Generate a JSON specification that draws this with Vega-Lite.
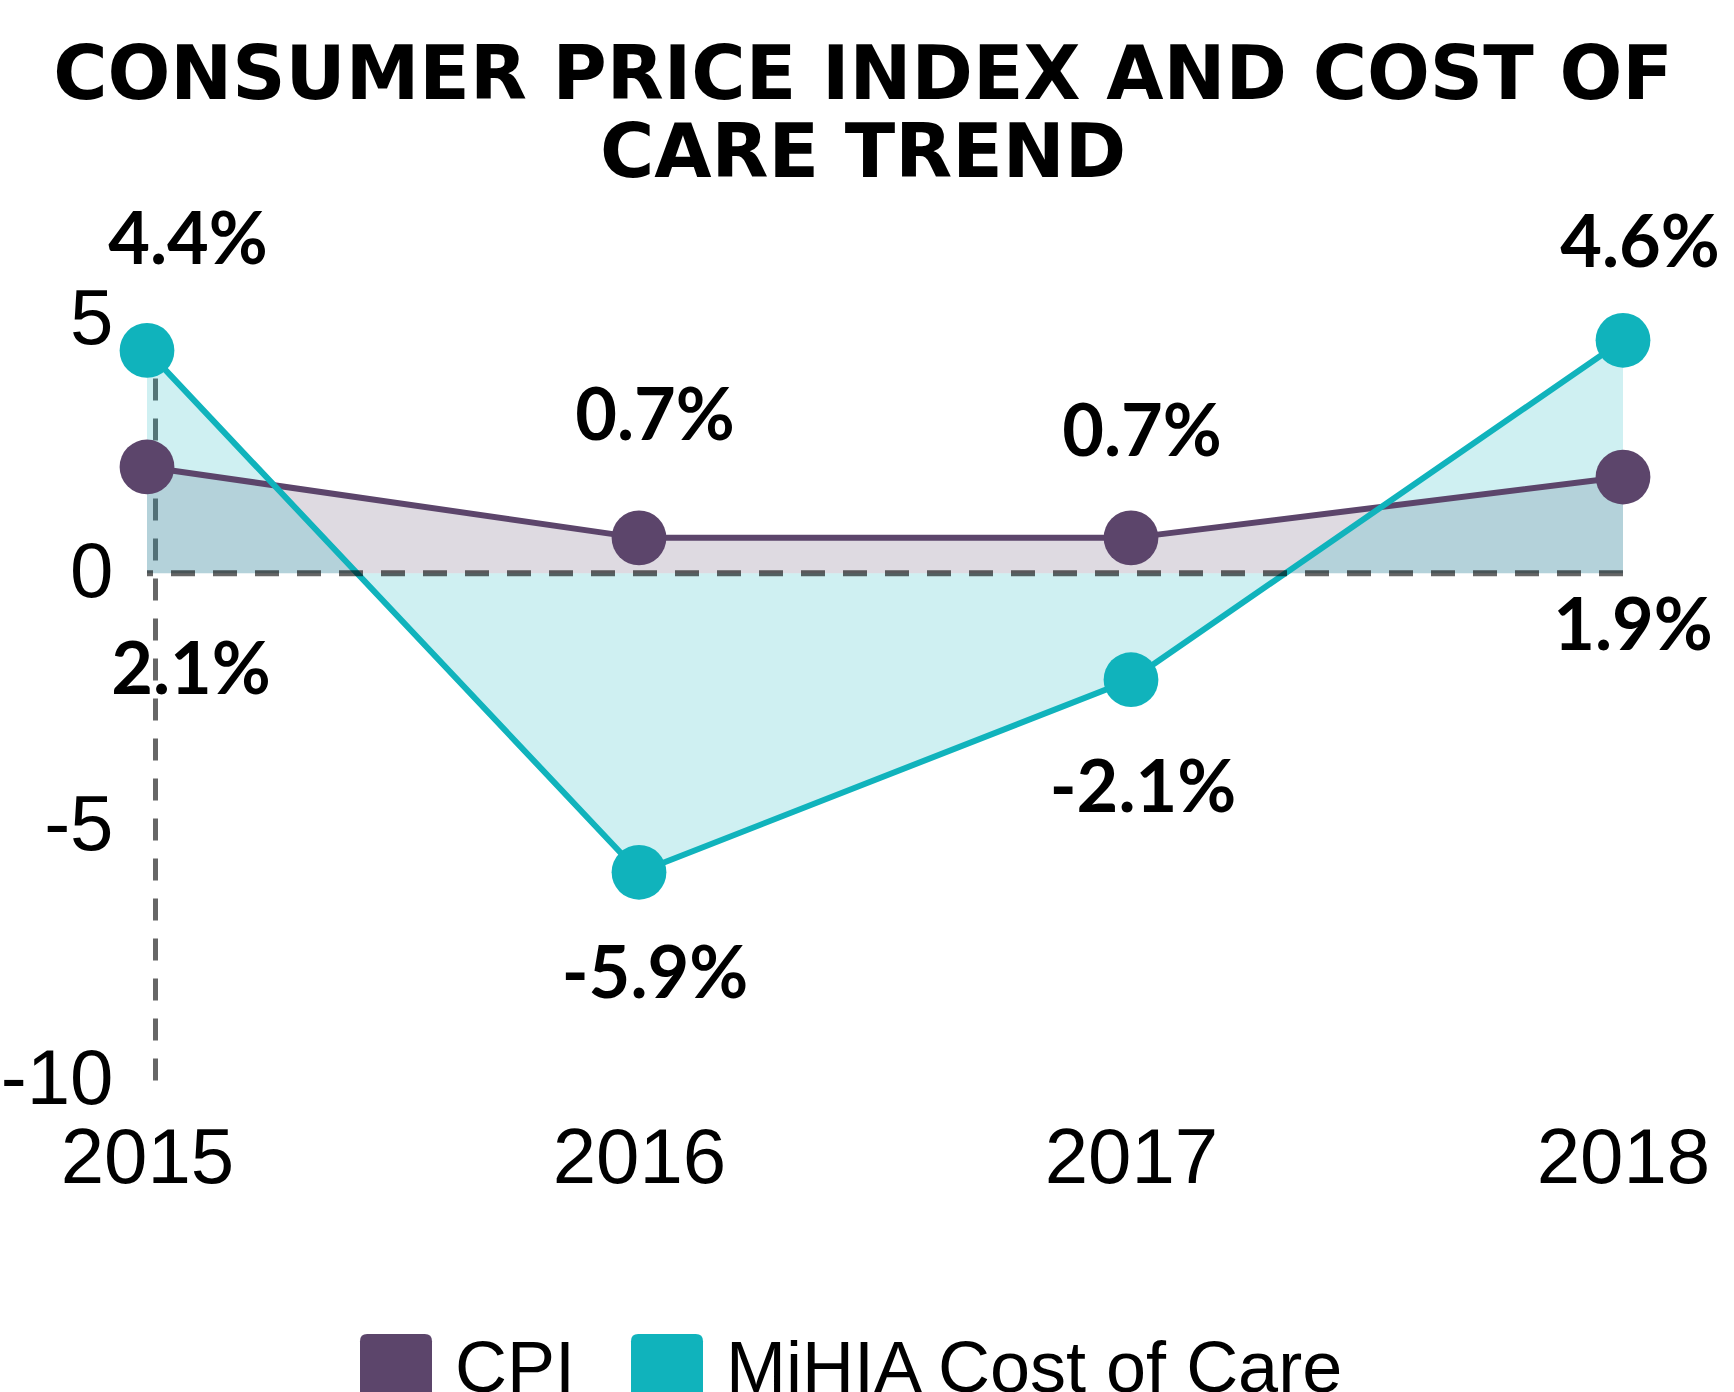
{
  "$schema": "https://vega.github.io/schema/vega-lite/v6.json",
  "width": 1476,
  "height": 760,
  "autosize": {"type": "none"},
  "padding": {"left": 147, "top": 320, "right": 111, "bottom": 312},
  "background": "white",
  "title": {
    "text": ["CONSUMER PRICE INDEX AND COST OF", "CARE TREND"],
    "font": "DejaVu Sans",
    "fontWeight": "bold",
    "fontSize": 74,
    "lineHeight": 78,
    "color": "black",
    "anchor": "middle",
    "frame": "group",
    "dx": -22,
    "offset": 13
  },
  "config": {
    "view": {"stroke": null},
    "axisX": {
      "title": null, "labelFont": "Liberation Sans", "labelFontSize": 78, "labelColor": "black",
      "ticks": false, "domain": false, "grid": false, "labelPadding": 40,
      "labelFlush": false, "labelOverlap": false
    },
    "axisY": {
      "title": null, "labelFont": "Liberation Sans", "labelFontSize": 78, "labelColor": "black",
      "ticks": false, "grid": false,
      "domainColor": "black", "domainOpacity": 0.6, "domainWidth": 5,
      "domainDash": [22, 18], "labelPadding": 42, "zindex": 1
    },
    "legend": {
      "orient": "none", "legendX": 213, "legendY": 1014, "direction": "horizontal",
      "title": null, "labelFont": "Liberation Sans", "labelFontSize": 72, "labelColor": "black",
      "labelLimit": 1000,
      "symbolType": "M-0.8,-1H0.8Q1,-1,1,-0.8V1H-1V-0.8Q-1,-1,-0.8,-1Z",
      "symbolSize": 5184, "symbolOpacity": 1, "symbolStrokeWidth": 0,
      "labelOffset": 23, "columnPadding": 55, "padding": 0
    }
  },
  "data": {
    "values": [
      {"year": 2015, "series": "CPI", "value": 2.1, "label": "2.1%"},
      {"year": 2016, "series": "CPI", "value": 0.7, "label": "0.7%"},
      {"year": 2017, "series": "CPI", "value": 0.7, "label": "0.7%"},
      {"year": 2018, "series": "CPI", "value": 1.9, "label": "1.9%"},
      {"year": 2015, "series": "MiHIA Cost of Care", "value": 4.4, "label": "4.4%"},
      {"year": 2016, "series": "MiHIA Cost of Care", "value": -5.9, "label": "-5.9%"},
      {"year": 2017, "series": "MiHIA Cost of Care", "value": -2.1, "label": "-2.1%"},
      {"year": 2018, "series": "MiHIA Cost of Care", "value": 4.6, "label": "4.6%"}
    ]
  },
  "layer": [
    {
      "mark": {"type": "area", "fillOpacity": 0.2},
      "encoding": {
        "x": {
          "field": "year", "type": "quantitative", "title": null,
          "scale": {"domain": [2015, 2018], "nice": false, "zero": false},
          "axis": {"values": [2015, 2016, 2017, 2018], "format": "d", "title": null}
        },
        "y": {
          "field": "value", "type": "quantitative", "stack": null, "title": null,
          "scale": {"domain": [-10, 5], "nice": false},
          "axis": {"values": [-10, -5, 0, 5], "title": null, "offset": -8, "labelExpr": "'' + datum.value"}
        },
        "y2": {"datum": 0},
        "color": {
          "field": "series", "type": "nominal", "title": null,
          "scale": {"domain": ["CPI", "MiHIA Cost of Care"], "range": ["#5c456b", "#10b3bc"]}
        }
      }
    },
    {
      "mark": {"type": "line", "strokeWidth": 6},
      "encoding": {
        "x": {"field": "year", "type": "quantitative", "title": null},
        "y": {"field": "value", "type": "quantitative", "title": null},
        "color": {"field": "series", "type": "nominal", "title": null}
      }
    },
    {
      "data": {"values": [{"zero": 0}]},
      "mark": {"type": "rule", "color": "#000000", "strokeOpacity": 0.6, "strokeWidth": 6, "strokeDash": [24, 18]},
      "encoding": {
        "y": {"field": "zero", "type": "quantitative", "title": null}
      }
    },
    {
      "mark": {"type": "point", "filled": true, "size": 3000, "opacity": 1},
      "encoding": {
        "x": {"field": "year", "type": "quantitative", "title": null},
        "y": {"field": "value", "type": "quantitative", "title": null},
        "color": {"field": "series", "type": "nominal", "title": null}
      }
    },
    {
      "transform": [{"filter": "datum.series === 'MiHIA Cost of Care' && datum.year === 2015"}],
      "mark": {"type": "text", "font": "Lato", "fontWeight": "bold", "fontSize": 72, "color": "black", "baseline": "middle", "dx": 41, "dy": -108},
      "encoding": {"x": {"field": "year", "type": "quantitative", "title": null}, "y": {"field": "value", "type": "quantitative", "title": null}, "text": {"field": "label"}}
    },
    {
      "transform": [{"filter": "datum.series === 'MiHIA Cost of Care' && datum.year === 2016"}],
      "mark": {"type": "text", "font": "Lato", "fontWeight": "bold", "fontSize": 72, "color": "black", "baseline": "middle", "dx": 16, "dy": 104},
      "encoding": {"x": {"field": "year", "type": "quantitative", "title": null}, "y": {"field": "value", "type": "quantitative", "title": null}, "text": {"field": "label"}}
    },
    {
      "transform": [{"filter": "datum.series === 'MiHIA Cost of Care' && datum.year === 2017"}],
      "mark": {"type": "text", "font": "Lato", "fontWeight": "bold", "fontSize": 72, "color": "black", "baseline": "middle", "dx": 12, "dy": 110},
      "encoding": {"x": {"field": "year", "type": "quantitative", "title": null}, "y": {"field": "value", "type": "quantitative", "title": null}, "text": {"field": "label"}}
    },
    {
      "transform": [{"filter": "datum.series === 'MiHIA Cost of Care' && datum.year === 2018"}],
      "mark": {"type": "text", "font": "Lato", "fontWeight": "bold", "fontSize": 72, "color": "black", "baseline": "middle", "dx": 17, "dy": -95},
      "encoding": {"x": {"field": "year", "type": "quantitative", "title": null}, "y": {"field": "value", "type": "quantitative", "title": null}, "text": {"field": "label"}}
    },
    {
      "transform": [{"filter": "datum.series === 'CPI' && datum.year === 2015"}],
      "mark": {"type": "text", "font": "Lato", "fontWeight": "bold", "fontSize": 72, "color": "black", "baseline": "middle", "dx": 44, "dy": 205},
      "encoding": {"x": {"field": "year", "type": "quantitative", "title": null}, "y": {"field": "value", "type": "quantitative", "title": null}, "text": {"field": "label"}}
    },
    {
      "transform": [{"filter": "datum.series === 'CPI' && datum.year === 2016"}],
      "mark": {"type": "text", "font": "Lato", "fontWeight": "bold", "fontSize": 72, "color": "black", "baseline": "middle", "dx": 16, "dy": -120},
      "encoding": {"x": {"field": "year", "type": "quantitative", "title": null}, "y": {"field": "value", "type": "quantitative", "title": null}, "text": {"field": "label"}}
    },
    {
      "transform": [{"filter": "datum.series === 'CPI' && datum.year === 2017"}],
      "mark": {"type": "text", "font": "Lato", "fontWeight": "bold", "fontSize": 72, "color": "black", "baseline": "middle", "dx": 11, "dy": -104},
      "encoding": {"x": {"field": "year", "type": "quantitative", "title": null}, "y": {"field": "value", "type": "quantitative", "title": null}, "text": {"field": "label"}}
    },
    {
      "transform": [{"filter": "datum.series === 'CPI' && datum.year === 2018"}],
      "mark": {"type": "text", "font": "Lato", "fontWeight": "bold", "fontSize": 72, "color": "black", "baseline": "middle", "dx": 10, "dy": 151},
      "encoding": {"x": {"field": "year", "type": "quantitative", "title": null}, "y": {"field": "value", "type": "quantitative", "title": null}, "text": {"field": "label"}}
    }
  ]
}
